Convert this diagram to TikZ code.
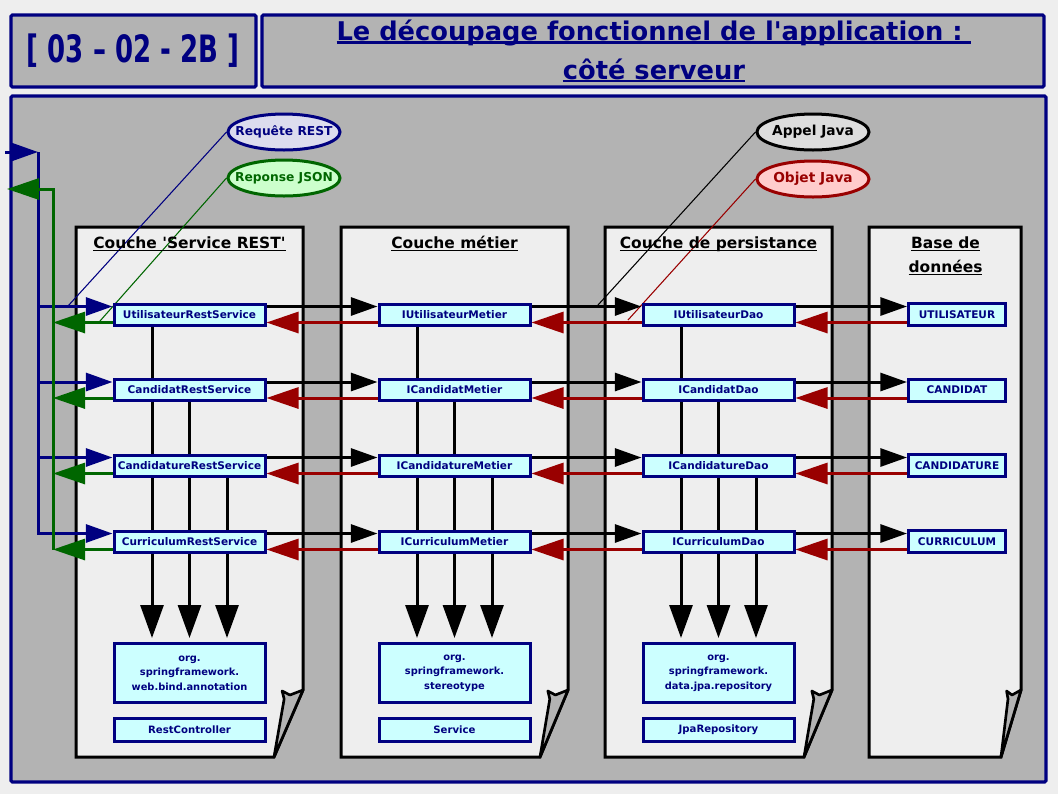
\documentclass[tikz,border=0pt]{standalone}
\usepackage{fontspec}
\setmainfont{DejaVu Sans}
\usepackage{graphicx}
\usetikzlibrary{arrows.meta,shapes.geometric}
\definecolor{navy}{HTML}{000080}
\definecolor{bgpage}{HTML}{EEEEEE}
\definecolor{bggray}{HTML}{B3B3B3}
\definecolor{colfill}{HTML}{EEEEEE}
\definecolor{boxcyan}{HTML}{CCFFFF}
\definecolor{dred}{HTML}{990000}
\definecolor{dgreen}{HTML}{006600}
\definecolor{lgreen}{HTML}{CCFFCC}
\definecolor{lred}{HTML}{FFCCCC}
\definecolor{lblue}{HTML}{DCDCEE}
\definecolor{lgray}{HTML}{DDDDDD}
\pgfdeclarelayer{back}
\pgfdeclarelayer{mid}
\pgfsetlayers{back,mid,main}
\newcommand\myul[2][1.1pt]{\setbox0\hbox{#2}\rlap{\rule[-2.4pt]{\wd0}{#1}}\box0}
\newcommand\zw[1]{\makebox[0pt][c]{#1}}
\begin{document}
\begin{tikzpicture}[x=0.75pt,y=-0.75pt,
  frame/.style={draw=navy, line width=2.4pt, fill=bggray, rounded corners=1pt},
  colstyle/.style={draw=black, line width=2.25pt, fill=colfill, line join=miter},
  foldstyle/.style={draw=black, line width=2pt, fill=bggray, line join=round},
  rowbox/.style={draw=navy, line width=2.25pt, fill=boxcyan, text=navy, font=\fontsize{7.9}{9}\selectfont\bfseries, minimum width=113.25pt, minimum height=15.75pt, inner sep=0pt},
  dbbox/.style={rowbox, minimum width=72.75pt, minimum height=16.5pt},
  pkgbox/.style={rowbox, minimum height=44.25pt, align=center, font=\fontsize{7.4}{10.9}\selectfont\bfseries},
  annbox/.style={rowbox, minimum height=17.25pt, font=\fontsize{7.6}{9}\selectfont\bfseries},
  coltitle/.style={anchor=base, inner sep=0pt, font=\fontsize{11.6}{14}\selectfont\bfseries},
  callout/.style={ellipse, line width=2.25pt, minimum width=84pt, minimum height=27pt, inner sep=0pt},
  fwd/.style={line width=2.25pt, -{Triangle[length=20pt,width=13.5pt]}},
  back/.style={line width=2.25pt, -{Triangle[length=24pt,width=15.75pt]}},
  down/.style={line width=2.25pt, -{Triangle[length=24.75pt,width=17.25pt]}},
  thin/.style={line width=0.8pt}
]
\useasboundingbox (0,0) rectangle (1058,794);
\begin{pgfonlayer}{back}
\fill[bgpage] (0,0) rectangle (1058,794);
\draw[frame] (11,15) rectangle (256,87);
\draw[frame] (262,15) rectangle (1044,87);
\draw[frame] (11,96) rectangle (1046,782);
\foreach \xa/\xb/\f in {76/303/29, 341/568/28, 605/832/28, 869/1021/20} {
  \draw[colstyle] (\xa,227) -- (\xb,227) -- (\xb,690) -- (\xb-\f,757) -- (\xa,757) -- cycle;
  \draw[foldstyle] (\xb,690) -- (\xb-0.45*\f,695) -- (\xb-0.72*\f,691) -- (\xb-0.65*\f,699) -- (\xb-\f,757) -- cycle;
}
\end{pgfonlayer}

% header texts
\node[text=navy, font=\fontsize{19.5}{22}\selectfont\bfseries] (code) at (133,51) {\scalebox{1}[1.45]{[ 03 – 02 - 2B ]}};
\node[text=navy, align=center, font=\fontsize{19.3}{29}\selectfont\bfseries] (title) at (654,51)
  {\myul[1.6pt]{Le découpage fonctionnel de l\textquotesingle application :\ }\\\myul[1.6pt]{côté serveur}};

% column titles
\node[coltitle] (h1) at (189.5,248) {\myul{Couche \textquotesingle Service REST\textquotesingle}};
\node[coltitle] (h2) at (454.5,248) {\myul{Couche métier}};
\node[coltitle] (h3) at (718.5,248) {\myul{Couche de persistance}};
\node[coltitle] (h4a) at (945.5,248) {\myul{Base de}};
\node[coltitle] (h4b) at (945.5,272) {\myul{données}};

% callouts
\node[callout, draw=navy, fill=lblue, text=navy, font=\fontsize{9.2}{10}\selectfont\bfseries] (req) at (284,132) {\zw{Requête REST}};
\node[callout, draw=dgreen, fill=lgreen, text=dgreen, font=\fontsize{9.2}{10}\selectfont\bfseries] (rep) at (284,178) {\zw{Reponse JSON}};
\node[callout, draw=black, fill=lgray, text=black, font=\fontsize{10.3}{12}\selectfont\bfseries] (app) at (813,132) {\zw{Appel Java}};
\node[callout, draw=dred, fill=lred, text=dred, font=\fontsize{10.3}{12}\selectfont\bfseries] (obj) at (813,179) {\zw{Objet Java}};

% row boxes
\foreach \i/\y/\a/\b/\c/\d in {
  1/314.5/UtilisateurRestService/IUtilisateurMetier/IUtilisateurDao/UTILISATEUR,
  2/390/CandidatRestService/ICandidatMetier/ICandidatDao/CANDIDAT,
  3/465.5/CandidatureRestService/ICandidatureMetier/ICandidatureDao/CANDIDATURE,
  4/541.5/CurriculumRestService/ICurriculumMetier/ICurriculumDao/CURRICULUM} {
  \node[rowbox] (s\i) at (189.5,\y) {\a};
  \node[rowbox] (m\i) at (454.5,\y) {\b};
  \node[rowbox] (d\i) at (718.5,\y) {\c};
  \node[dbbox] (t\i) at (957,\y) {\d};
}

% package boxes
\node[pkgbox] (o1) at (189.5,673) {org.\\springframework.\\web.bind.annotation};
\node[pkgbox] (o2) at (454.5,673) {org.\\springframework.\\stereotype};
\node[pkgbox] (o3) at (718.5,673) {org.\\springframework.\\data.jpa.repository};
\node[annbox] (a1) at (189.5,730) {RestController};
\node[annbox] (a2) at (454.5,730) {Service};
\node[annbox] (a3) at (718.5,730) {JpaRepository};

% rail coordinates
\coordinate (bstart) at (5,152);
\coordinate (btop) at (38,152);
\coordinate (gtop) at (53,189);
\coordinate (gend) at (7,189);
\coordinate (reqend) at (68,306);
\coordinate (repend) at (100,321);
\coordinate (append) at (598,305);
\coordinate (objend) at (628,320);

\begin{pgfonlayer}{mid}
% callout leader lines
\draw[thin, navy] (req.west) -- (reqend);
\draw[thin, dgreen] (rep.west) -- (repend);
\draw[thin, black] (app.west) -- (append);
\draw[thin, dred] (obj.west) -- (objend);

% vertical arrows to packages
\foreach \c/\o in {s/o1, m/o2, d/o3} {
  \draw[down] ([xshift=-28.125pt]\c1.south) -- ([xshift=-28.125pt,yshift=3pt]\o.north);
  \draw[down] (\c2.south) -- ([yshift=3pt]\o.north);
  \draw[down] ([xshift=28.125pt]\c3.south) -- ([xshift=28.125pt,yshift=3pt]\o.north);
}

% horizontal arrows
\foreach \i in {1,2,3,4} {
  \draw[fwd] ([yshift=6pt]s\i.east) -- ([yshift=6pt]m\i.west);
  \draw[fwd] ([yshift=6pt]m\i.east) -- ([yshift=6pt]d\i.west);
  \draw[fwd] ([yshift=6pt]d\i.east) -- ([yshift=6pt]t\i.west);
  \draw[back, dred] ([yshift=-6pt]m\i.west) -- ([yshift=-6pt]s\i.east);
  \draw[back, dred] ([yshift=-6pt]d\i.west) -- ([yshift=-6pt]m\i.east);
  \draw[back, dred] ([yshift=-6pt]t\i.west) -- ([yshift=-6pt]d\i.east);
  \coordinate (sa\i) at ([yshift=6pt]s\i.west);
  \coordinate (sb\i) at ([yshift=-6pt]s\i.west);
}
% blue request rail
\draw[fwd, navy] (bstart) -- (btop);
\draw[fwd, navy, line join=miter] (btop) -- (sa4 -| btop) -- (sa4);
\foreach \i in {1,2,3} { \draw[fwd, navy] (sa\i -| btop) -- (sa\i); }
% green response rail
\draw[back, dgreen, line join=miter] (sb4 -| gtop) -- (gtop) -- (gend);
\foreach \i in {1,2,3,4} { \draw[back, dgreen] (sb\i) -- (sb\i -| gtop); }
\end{pgfonlayer}
\end{tikzpicture}
\end{document}
